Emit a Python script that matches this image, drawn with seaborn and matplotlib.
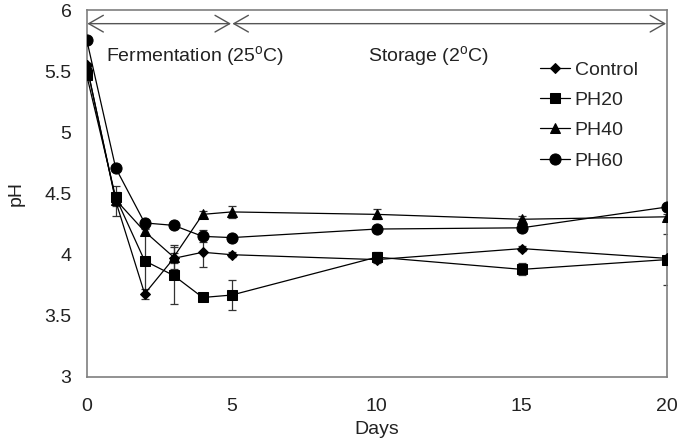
import numpy as np
import pandas as pd
import seaborn as sns
import matplotlib.pyplot as plt

# pH values
days = [0, 1, 2, 3, 4, 5, 10, 15, 20]
control = [5.55, 4.44, 3.68, 3.97, 4.02, 4.00, 3.96, 4.05, 3.97]
ph20 = [5.47, 4.47, 3.95, 3.83, 3.65, 3.67, 3.98, 3.88, 3.96]
ph40 = [5.55, 4.45, 4.19, 3.98, 4.33, 4.35, 4.33, 4.29, 4.31]
ph60 = [5.76, 4.71, 4.26, 4.24, 4.15, 4.14, 4.21, 4.22, 4.39]

control_err = [0.02, 0.12, 0.04, 0.04, 0.12, 0.02, 0.03, 0.02, 0.02]
ph20_err = [0.02, 0.04, 0.26, 0.23, 0.03, 0.12, 0.04, 0.05, 0.21]
ph40_err = [0.02, 0.05, 0.03, 0.10, 0.03, 0.05, 0.04, 0.03, 0.02]
ph60_err = [0.02, 0.02, 0.02, 0.02, 0.05, 0.02, 0.02, 0.02, 0.02]

names = ['Control', 'PH20', 'PH40', 'PH60']
markers = {'Control': 'D', 'PH20': 's', 'PH40': '^', 'PH60': 'o'}
sizes = {'Control': 5.5, 'PH20': 7.5, 'PH40': 7.5, 'PH60': 8}

series = dict(zip(names, [control, ph20, ph40, ph60]))
errors = dict(zip(names, [control_err, ph20_err, ph40_err, ph60_err]))

df = pd.concat([
    pd.DataFrame({'Days': days, 'pH': series[n], 'err': errors[n], 'Treatment': n})
    for n in names
])

sns.set_style('white')
plt.rcParams['font.family'] = ['Liberation Sans', 'DejaVu Sans']
fs = 14

fig, ax = plt.subplots(figsize=(6.77, 4.44), dpi=100)
fig.subplots_adjust(left=0.128, right=0.985, bottom=0.151, top=0.977)

for n in names:
    d = df[df['Treatment'] == n]
    ax.errorbar(d['Days'], d['pH'], yerr=d['err'], fmt='none', ecolor='#333333',
                elinewidth=0.9, capsize=3, capthick=0.9, zorder=2)
    sns.lineplot(data=d, x='Days', y='pH', ax=ax, color='black', lw=0.9,
                 marker=markers[n], markersize=sizes[n], markeredgecolor='black',
                 label=n, zorder=3)

ax.set_xlim(0, 20)
ax.set_ylim(3, 6)
ax.set_xticks([0, 5, 10, 15, 20])
ax.set_yticks([3, 3.5, 4, 4.5, 5, 5.5, 6])
ax.set_yticklabels(['3', '3.5', '4', '4.5', '5', '5.5', '6'])
ax.tick_params(direction='in', length=4, labelsize=fs, colors='#222222')
ax.tick_params(axis='x', pad=15)
ax.tick_params(axis='y', pad=11)
for s in ax.spines.values():
    s.set_color('#7f7f7f')
    s.set_linewidth(1.2)

ax.set_xlabel('Days', fontsize=fs, color='#222222')
ax.set_ylabel('pH', fontsize=fs, color='#222222')
ax.xaxis.set_label_coords(0.5, -0.12)
ax.yaxis.set_label_coords(-0.107, 0.5)

# period arrows
arrow = dict(arrowstyle='<->,head_length=0.7,head_width=0.4', color='#555555',
             lw=1.0, mutation_scale=15, shrinkA=0.5, shrinkB=0.5)
ax.annotate('', xy=(0, 5.89), xytext=(5, 5.89), arrowprops=arrow)
ax.annotate('', xy=(5, 5.89), xytext=(20, 5.89), arrowprops=arrow)
ax.text(0.68, 5.62, 'Fermentation (25$^{\\mathregular{o}}$C)', fontsize=fs,
        va='center', color='#222222')
ax.text(9.7, 5.62, 'Storage (2$^{\\mathregular{o}}$C)', fontsize=fs,
        va='center', color='#222222')

ax.legend(loc='upper left', bbox_to_anchor=(0.781, 0.861), frameon=False,
          fontsize=fs, handlelength=1.55, labelspacing=0.65, handletextpad=0.25,
          borderpad=0, borderaxespad=0)

plt.savefig('out.png', dpi=100)
